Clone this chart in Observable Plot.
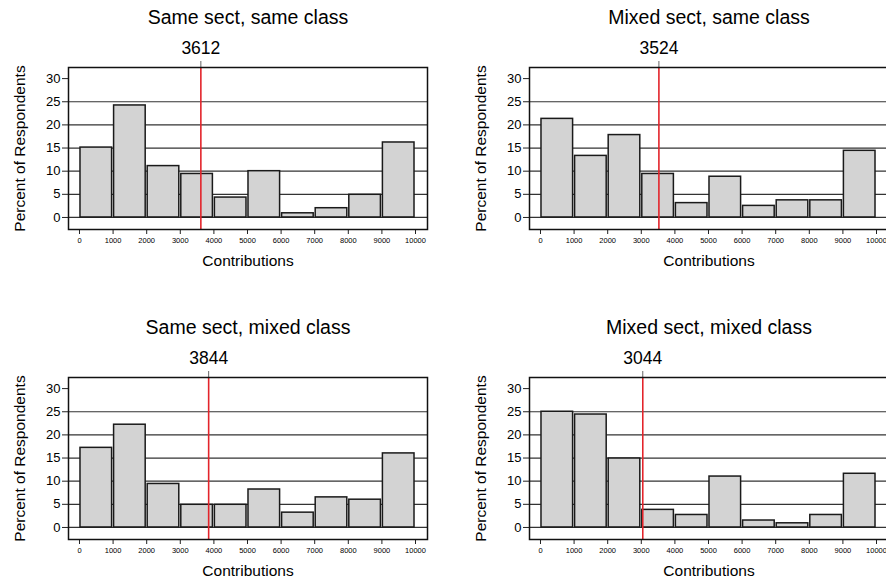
<!DOCTYPE html>
<html>
<head>
<meta charset="utf-8">
<script src="https://cdn.jsdelivr.net/npm/d3@7"></script>
<script src="https://cdn.jsdelivr.net/npm/@observablehq/plot@0.6"></script>
<style>
  html, body { margin: 0; padding: 0; background: #fff; overflow: hidden; }
  #wrap { position: relative; width: 886px; height: 581px; overflow: hidden; }
  .panel { position: absolute; }
</style>
</head>
<body>
<div id="wrap"></div>
<script>
// ---- data ----
const binStarts = [0, 1000, 2000, 3000, 4000, 5000, 6000, 7000, 8000, 9000];
const binWidth = 1000;
const xTickValues = [0, 1000, 2000, 3000, 4000, 5000, 6000, 7000, 8000, 9000, 10000];
const yTickValues = [0, 5, 10, 15, 20, 25, 30];
const gridValues = [0, 5, 10, 15, 20, 25];

const panelTitles = ["Same sect, same class", "Mixed sect, same class", "Same sect, mixed class", "Mixed sect, mixed class"];
const meanValues = [3612, 3524, 3844, 3044];

const sameSectSameClass   = [15.1, 24.2, 11.1, 9.4, 4.3, 10.0, 0.9, 2.0, 4.9, 16.2];
const mixedSectSameClass  = [21.3, 13.3, 17.8, 9.4, 3.1, 8.8, 2.5, 3.7, 3.7, 14.4];
const sameSectMixedClass  = [17.2, 22.2, 9.4, 4.9, 4.9, 8.2, 3.2, 6.5, 6.0, 16.0];
const mixedSectMixedClass = [25.0, 24.4, 14.9, 3.8, 2.7, 11.0, 1.5, 0.9, 2.7, 11.6];

const seriesList = [sameSectSameClass, mixedSectSameClass, sameSectMixedClass, mixedSectMixedClass];

const panelLeft = [0, 461, 0, 461];
const panelTop = [0, 0, 310, 310];

const font = "'Liberation Sans', Arial, Helvetica, sans-serif";
const wrap = document.getElementById("wrap");

seriesList.forEach((values, i) => {
  const rows = binStarts.map((s, j) => ({start: s, end: s + binWidth, value: values[j]}));
  const chart = Plot.plot({
    width: 443,
    height: 290,
    marginTop: 67,
    marginBottom: 61,
    marginLeft: 68,
    marginRight: 16,
    style: {fontFamily: font, background: "transparent", color: "#000", overflow: "visible"},
    x: {domain: [-327, 10357]},
    y: {domain: [-2.6, 32.4]},
    marks: [
      Plot.ruleY(gridValues, {stroke: "#333", strokeWidth: 1.2}),
      Plot.rect(rows, {x1: "start", x2: "end", y1: 0, y2: "value", fill: "#d3d3d3", stroke: "#1a1a1a", strokeWidth: 1.5, insetLeft: 1, insetRight: 1}),
      Plot.ruleX([meanValues[i]], {stroke: "#e3242b", strokeWidth: 1.6}),
      Plot.axisX({ticks: [meanValues[i]], anchor: "top", tickSize: 7, tickPadding: 7, fontSize: 17.5, tickFormat: d => String(d), stroke: "#666", label: null}),
      Plot.axisX({ticks: xTickValues, anchor: "bottom", tickSize: 5, tickPadding: 3, fontSize: 7.5, tickFormat: d => String(d), stroke: "#222", label: null}),
      Plot.axisY({ticks: yTickValues, anchor: "left", tickSize: 6, tickPadding: 2, fontSize: 13, tickFormat: d => String(d), stroke: "#222", label: null}),
      Plot.text(["Contributions"], {frameAnchor: "bottom", dy: 32, fontSize: 15.5, lineAnchor: "middle", textAnchor: "middle"}),
      Plot.text(["Percent of Respondents"], {frameAnchor: "left", dx: -48, rotate: -90, fontSize: 15.5, lineAnchor: "middle", textAnchor: "middle"}),
      Plot.text([panelTitles[i]], {frameAnchor: "top", dy: -50, fontSize: 19.5, lineAnchor: "middle", textAnchor: "middle"}),
      Plot.frame({stroke: "#111", strokeWidth: 1.5})
    ]
  });
  chart.classList.add("panel");
  chart.style.left = panelLeft[i] + "px";
  chart.style.top = panelTop[i] + "px";
  wrap.appendChild(chart);
});
</script>
</body>
</html>
